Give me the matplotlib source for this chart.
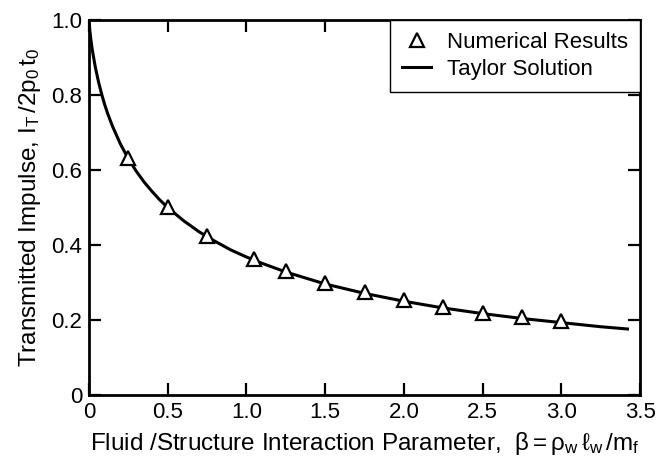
import matplotlib
matplotlib.use("Agg")
import matplotlib.pyplot as plt

# Numerical results
beta_num = [0.25, 0.5, 0.75, 1.05, 1.25, 1.5, 1.75, 2.0, 2.25, 2.5, 2.75, 3.0]
imp_num = [0.632, 0.502, 0.424, 0.362, 0.330, 0.298, 0.274, 0.254, 0.234, 0.218, 0.207, 0.198]

# Taylor solution curve
beta_curve = [0.0, 0.005, 0.01, 0.02, 0.04, 0.06, 0.08, 0.10, 0.12, 0.15, 0.20, 0.25,
              0.30, 0.35, 0.40, 0.45, 0.50, 0.60, 0.70, 0.80, 0.90, 1.00, 1.10, 1.25, 1.50,
              1.75, 2.00, 2.25, 2.50, 2.75, 3.00, 3.25, 3.42]
imp_curve = [1.0, 0.974, 0.955, 0.923, 0.875, 0.836, 0.803, 0.774, 0.749, 0.716, 0.669, 0.630,
             0.597, 0.568, 0.543, 0.520, 0.500, 0.465, 0.435, 0.410, 0.387, 0.368, 0.351, 0.328, 0.296,
             0.271, 0.250, 0.232, 0.217, 0.204, 0.193, 0.182, 0.176]

xticks = [0, 0.5, 1.0, 1.5, 2.0, 2.5, 3.0, 3.5]
xticklabels = ['0', '0.5', '1.0', '1.5', '2.0', '2.5', '3.0', '3.5']
yticks = [0, 0.2, 0.4, 0.6, 0.8, 1.0]
yticklabels = ['0', '0.2', '0.4', '0.6', '0.8', '1.0']

plt.rcParams['font.family'] = ['Liberation Sans', 'DejaVu Sans']
plt.rcParams['mathtext.fontset'] = 'custom'
plt.rcParams['mathtext.rm'] = 'Liberation Sans'
plt.rcParams['mathtext.it'] = 'Liberation Sans'
plt.rcParams['mathtext.bf'] = 'Liberation Sans:bold'

fig = plt.figure(figsize=(6.64, 4.58), dpi=100)
ax = fig.add_axes([0.134, 0.1376, 0.830, 0.8187])

ax.plot(beta_curve, imp_curve, color='black', lw=2.2, label='Taylor Solution', zorder=2)
ax.plot(beta_num, imp_num, linestyle='none', marker='^', markersize=10.5,
        markerfacecolor='white', markeredgecolor='black', markeredgewidth=1.6,
        label='Numerical Results', zorder=3)

ax.set_xlim(0, 3.5)
ax.set_ylim(0, 1.0)
ax.set_xticks(xticks)
ax.set_xticklabels(xticklabels)
ax.set_yticks(yticks)
ax.set_yticklabels(yticklabels)
ax.tick_params(direction='in', length=8.5, width=1.6, top=True, right=True,
               labelsize=16, pad=5)
for s in ax.spines.values():
    s.set_linewidth(2.0)

ax.set_xlabel(r'Fluid /Structure Interaction Parameter,  $\mathrm{\beta = \rho_w\,\ell_w\,/m_f}$',
              fontsize=17.5, labelpad=5)
ax.set_ylabel(r'Transmitted Impulse, $\mathrm{I_T\,/2p_0\,t_0}$', fontsize=17.5, labelpad=6)

handles, labels = ax.get_legend_handles_labels()
leg = ax.legend(handles[::-1], labels[::-1], loc='upper right', borderaxespad=0,
                fancybox=False, edgecolor='black', framealpha=1, fontsize=16,
                handlelength=1.3, markerscale=0.9, borderpad=0.55, labelspacing=0.25,
                handletextpad=0.7)
leg.get_frame().set_linewidth(1.0)

fig.savefig('out.png', dpi=100)
